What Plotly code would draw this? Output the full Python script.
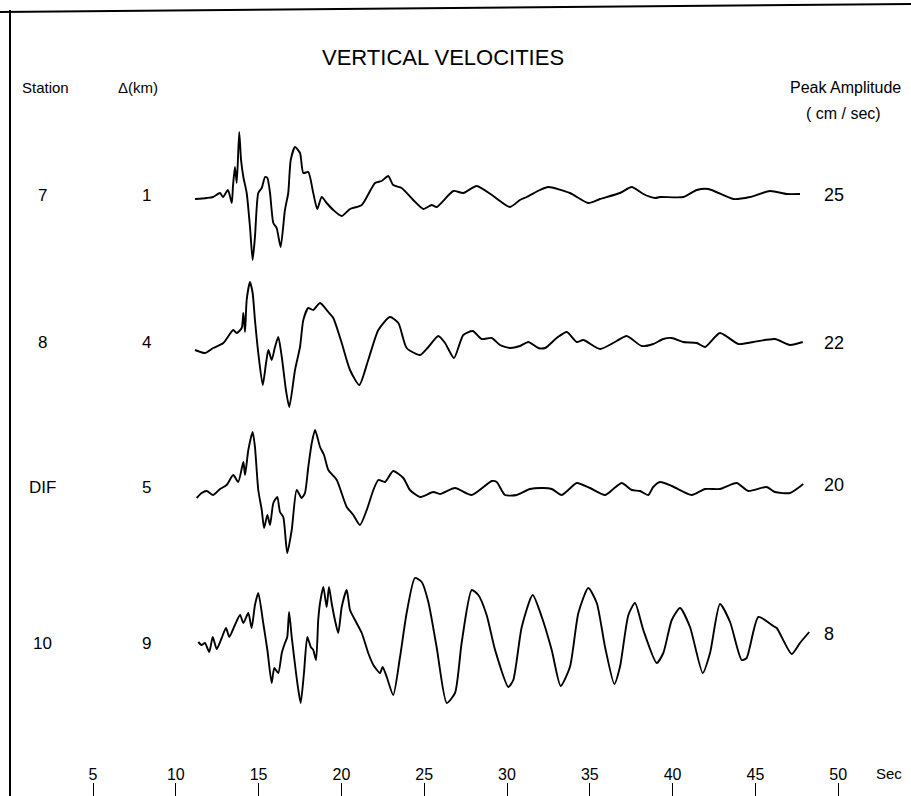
import plotly.graph_objects as go

# ---------------- data (digitized from the record) ----------------
# time in seconds, relative amplitude (arbitrary trace units)
t_st7 = [11.16, 11.87, 12.25, 12.67, 12.85, 13.15, 13.38, 13.45, 13.57, 13.68, 13.83, 13.94, 14.08, 14.28,
         14.48, 14.64, 14.78, 14.98, 15.19, 15.39, 15.53, 15.69, 15.89, 16.09, 16.33, 16.59, 16.79, 16.94,
         17.20, 17.50, 17.70, 18.00, 18.30, 18.54, 18.81, 19.11, 19.51, 20.02, 20.52, 21.23, 22.03, 22.43,
         22.83, 23.13, 23.64, 24.34, 24.95, 25.45, 25.75, 26.76, 27.36, 28.17, 29.17, 30.18, 30.78, 31.19,
         31.99, 32.49, 33.80, 34.91, 35.62, 36.82, 37.53, 38.23, 38.94, 39.24, 40.65, 41.46, 42.16, 43.67,
         44.67, 45.88, 46.89, 47.69]
v_st7 = [-0.1, 0.0, 0.1, 0.5, 0.1, 0.8, -0.5, 1.1, 3.1, 1.5, 6.6, 3.8, 2.1, 0.5,
         -2.9, -6.2, -3.9, 0.5, 1.0, 2.1, 2.0, 0.5, -2.5, -3.0, -4.9, -1.2, 0.5, 3.8,
         5.1, 4.5, 2.5, 2.6, 0.5, -1.1, 0.1, -0.5, -1.2, -1.8, -1.1, -0.7, 1.5, 1.7,
         2.2, 1.3, 1.0, -0.2, -1.1, -0.7, -0.9, 0.7, 0.5, 1.2, 0.2, -0.9, -0.2, 0.1,
         0.8, 1.1, 0.5, -0.5, -0.1, 0.5, 1.1, 0.4, 0.0, 0.1, 0.1, 0.8, 0.9, -0.1,
         0.1, 0.7, 0.4, 0.4]

t_st8 = [11.16, 11.76, 12.26, 12.87, 13.47, 13.68, 13.98, 14.08, 14.18, 14.28, 14.48, 14.64, 14.78, 14.98,
         15.25, 15.45, 15.59, 15.79, 15.99, 16.19, 16.40, 16.65, 16.85, 17.20, 17.50, 17.70, 18.00, 18.30,
         18.71, 19.21, 19.51, 20.02, 20.52, 21.08, 21.62, 22.23, 22.93, 23.44, 23.94, 24.75, 25.25, 25.85,
         26.26, 26.80, 27.36, 27.93, 28.47, 29.08, 29.58, 30.18, 30.78, 31.29, 31.89, 32.30, 33.00, 33.61,
         34.21, 34.61, 35.62, 36.62, 37.23, 38.13, 38.83, 39.44, 39.95, 40.65, 41.46, 41.96, 42.86, 43.97,
         44.87, 46.18, 47.09, 47.86]
v_st8 = [-0.2, -0.5, 0.0, 0.5, 1.8, 1.5, 2.0, 3.5, 1.6, 4.8, 6.6, 5.5, 2.8, -0.5,
         -3.7, -1.5, -0.2, -1.2, 0.1, 1.1, -0.9, -4.2, -5.9, -2.2, 0.1, 2.8, 4.0, 3.8,
         4.5, 3.6, 3.0, 0.5, -2.2, -3.7, -1.2, 1.8, 3.1, 2.5, 0.0, -0.7, 0.1, 1.2,
         0.5, -1.0, 1.3, 1.7, 0.9, 1.0, 0.3, 0.0, 0.2, 0.6, 0.0, 0.0, 1.0, 1.6,
         0.6, 0.8, -0.1, 0.7, 1.2, 0.2, 0.4, 0.9, 1.0, 0.6, 0.5, 0.1, 1.5, 0.4,
         0.6, 0.9, 0.3, 0.6]

t_dif = [11.26, 11.56, 11.87, 12.26, 12.67, 13.07, 13.47, 13.77, 14.08, 14.18, 14.38, 14.64, 14.78, 14.98,
         15.19, 15.33, 15.53, 15.69, 15.89, 16.13, 16.29, 16.49, 16.73, 17.00, 17.30, 17.60, 17.80, 18.00,
         18.21, 18.41, 18.71, 18.95, 19.21, 19.72, 20.32, 20.72, 21.12, 21.53, 21.93, 22.23, 22.63, 23.13,
         23.74, 24.14, 24.75, 25.55, 25.95, 26.86, 27.87, 29.08, 29.38, 29.88, 30.59, 31.39, 32.19, 32.70,
         33.30, 33.70, 34.21, 35.01, 35.92, 36.42, 36.93, 37.53, 38.03, 38.53, 38.83, 39.24, 39.95, 41.15,
         41.96, 42.86, 43.87, 44.57, 45.68, 46.18, 47.09, 47.89]
v_dif = [-0.6, -0.1, 0.1, -0.3, 0.3, 0.7, 1.7, 1.0, 3.0, 1.7, 4.2, 6.0, 4.5, 0.2,
         -1.8, -3.6, -2.3, -3.3, -1.1, -0.5, -2.0, -2.5, -6.1, -3.8, 0.2, -0.6, -0.1, 2.5,
         4.9, 6.2, 4.5, 3.7, 2.2, 1.2, -1.5, -2.3, -3.3, -1.8, 0.2, 1.2, 1.0, 2.1,
         1.4, 0.2, -0.5, 0.0, -0.2, 0.4, -0.3, 1.1, 1.0, -0.3, -0.3, 0.3, 0.4, 0.3,
         -0.3, 0.2, 0.9, 0.4, -0.3, 0.3, 0.9, 0.2, 0.1, -0.3, 0.5, 1.0, 0.6, -0.3,
         0.3, 0.3, 0.9, 0.1, 0.5, 0.0, -0.1, 0.8]

t_st10 = [11.36, 11.56, 11.76, 12.02, 12.23, 12.47, 12.77, 13.03, 13.23, 13.57, 13.88, 14.08, 14.38, 14.58,
          14.78, 14.98, 15.28, 15.53, 15.79, 15.95, 16.19, 16.40, 16.59, 16.73, 16.84, 17.00, 17.26, 17.40,
          17.54, 17.74, 17.94, 18.15, 18.30, 18.47, 18.60, 18.71, 18.91, 19.11, 19.25, 19.41, 19.61, 19.81,
          20.02, 20.32, 20.52, 20.82, 21.23, 21.62, 21.93, 22.33, 22.49, 22.74, 23.13, 23.54, 23.94, 24.44,
          24.85, 25.25, 25.75, 26.36, 26.86, 27.26, 27.87, 28.27, 28.77, 29.28, 30.08, 30.38, 30.89, 31.55,
          32.10, 32.70, 33.24, 33.80, 34.31, 34.91, 35.42, 35.92, 36.48, 36.82, 37.33, 37.73, 38.23, 39.04,
          39.44, 39.95, 40.45, 41.05, 41.82, 42.26, 42.86, 43.47, 44.17, 44.47, 45.18, 46.08, 46.29, 47.19,
          47.69, 48.25]
v_st10 = [-0.2, -0.5, -0.3, -1.2, 0.3, -0.9, 0.2, 1.2, 0.3, 1.5, 2.5, 1.7, 2.7, 1.2,
          3.5, 4.7, 1.7, -1.0, -4.3, -2.8, -3.3, -1.3, -0.3, 0.3, 2.8, 0.3, -3.3, -5.0,
          -6.3, -3.3, 0.3, -0.7, -1.0, -2.0, 2.0, 3.7, 5.3, 3.3, 5.3, 3.7, 2.0, 0.7,
          3.3, 5.0, 3.0, 2.0, 0.7, -1.3, -2.5, -3.3, -2.7, -3.7, -5.5, -1.7, 2.7, 6.2,
          5.8, 3.8, -0.7, -6.3, -5.3, -0.3, 5.0, 4.5, 2.5, -1.0, -4.7, -4.0, 1.3, 4.5,
          2.3, -1.0, -4.6, -2.7, 2.7, 5.2, 3.7, -0.7, -4.4, -2.7, 2.5, 3.7, 1.0, -2.3,
          -1.3, 2.0, 3.2, 1.3, -3.3, -1.3, 3.6, 1.8, -2.0, -1.8, 2.3, 1.4, 1.2, -1.4,
          -0.3, 0.8]

stations = ["7", "8", "DIF", "10"]
distances_km = ["1", "4", "5", "9"]
peak_amplitudes = ["25", "22", "20", "8"]
tick_values = [5, 10, 15, 20, 25, 30, 35, 40, 45, 50]
tick_labels = ["5", "10", "15", "20", "25", "30", "35", "40", "45", "50"]

traces_t = [t_st7, t_st8, t_dif, t_st10]
traces_v = [v_st7, v_st8, v_dif, v_st10]

# ---------------- layout constants ----------------
W, H = 911, 796
row_offsets = [-19.8, -34.8, -49.2, -64.0]     # trace baselines on the y scale
label_dy = [0.3, 0.6, 0.5, -0.3]
peak_dy = [0.3, 0.5, 0.7, 0.6]
FONT = "Liberation Sans"


def txt(x, y, s, size, yref="paper", xanchor="center"):
    return dict(x=x, y=y, xref="paper", yref=yref, text=s, showarrow=False,
                xanchor=xanchor, yanchor="middle",
                font=dict(size=size, color="black", family=FONT))


fig = go.Figure()
for tt, vv, off in zip(traces_t, traces_v, row_offsets):
    fig.add_trace(go.Scatter(x=tt, y=[off + v for v in vv], mode="lines",
                             line=dict(color="black", width=1.9, shape="spline", smoothing=0.6),
                             showlegend=False, hoverinfo="skip"))

ann = [
    txt(443 / W, 1 - 57 / H, "VERTICAL VELOCITIES", 22),
    txt(45 / W, 1 - 87 / H, "Station", 15),
    txt(138 / W, 1 - 87 / H, "Δ(km)", 15),
    txt(845 / W, 1 - 87 / H, "Peak Amplitude", 16),
    txt(843 / W, 1 - 113 / H, "( cm / sec)", 16),
    txt(889 / W, 1 - 773 / H, "Sec", 15),
]
for s, d, p, off, ldy, pdy in zip(stations, distances_km, peak_amplitudes, row_offsets, label_dy, peak_dy):
    ann.append(txt(42 / W, off + ldy, s, 17, yref="y"))
    ann.append(txt(146 / W, off + ldy, d, 17, yref="y"))
    ann.append(txt(822 / W, off + pdy, p, 18, yref="y", xanchor="left"))

px_per_s = 16.56
x0_px = 10.2
fig.update_layout(
    width=W, height=H, margin=dict(l=0, r=0, t=0, b=0),
    paper_bgcolor="white", plot_bgcolor="white",
    annotations=ann,
    xaxis=dict(range=[-x0_px / px_per_s, (W - x0_px) / px_per_s], showgrid=False, zeroline=False,
               showline=False, tickvals=tick_values, ticktext=tick_labels, ticks="inside",
               ticklen=13, tickwidth=1.3, tickcolor="black", ticklabelposition="inside",
               tickfont=dict(size=16, color="black", family=FONT)),
    yaxis=dict(range=[-H / 10, 0], showgrid=False, zeroline=False, showline=False,
               showticklabels=False, ticks=""),
    shapes=[
        dict(type="line", xref="paper", yref="paper", x0=0, y0=1 - 12 / H, x1=1, y1=1 - 4 / H,
             line=dict(color="black", width=2)),
        dict(type="line", xref="paper", yref="paper", x0=10 / W, y0=1 - 10 / H, x1=10 / W, y1=0,
             line=dict(color="black", width=2)),
    ],
)

fig.write_html("out.html", config={"displayModeBar": False},
               post_script="document.body.style.margin='0';document.body.style.overflow='hidden';")
